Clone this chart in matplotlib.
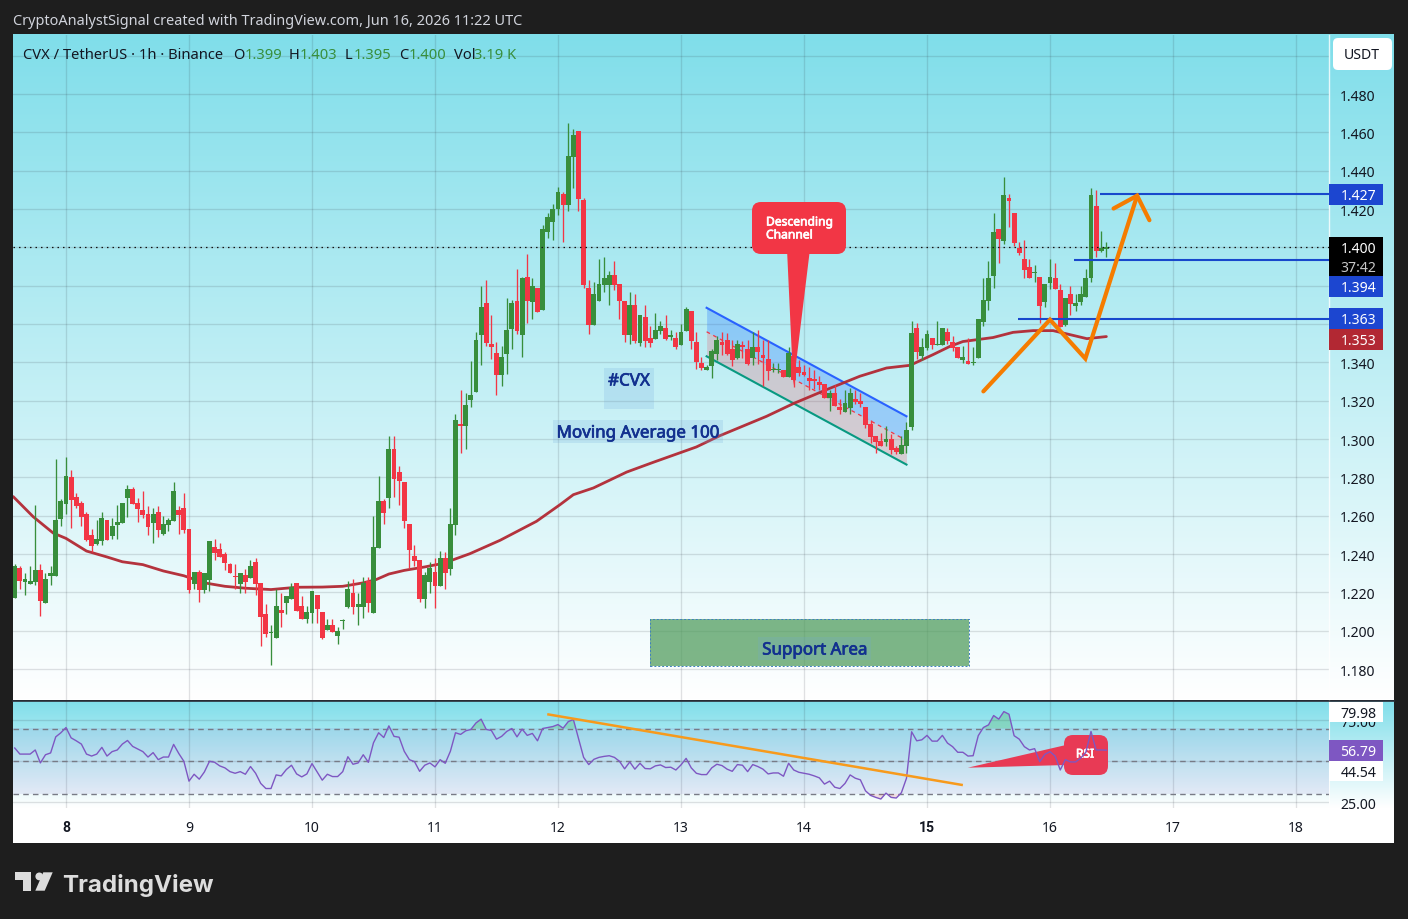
import numpy as np
import matplotlib
matplotlib.use("Agg")
import matplotlib.pyplot as plt
import matplotlib.patheffects as pe
from matplotlib.patches import Rectangle, FancyBboxPatch, Polygon, Circle
from matplotlib.transforms import Affine2D
from matplotlib.colors import LinearSegmentedColormap

plt.rcParams['font.family'] = ['Noto Sans', 'DejaVu Sans']

W, H = 1408, 920
hours = list(range(-10, 204))
opens = [1.217,1.233,1.2256,1.2246,1.2256,1.2319,1.2147,1.2287,1.2287,1.2585,
1.2663,1.28,1.27,1.2669,1.2611,1.2501,1.2455,1.247,1.258,1.2496,1.2554,1.2564,1.2695,1.2742,1.2669,1.2632,1.2611,1.2564,1.2622,1.2507,1.2554,1.2575,1.2632,1.2642,
1.2533,1.2246,1.2308,1.2215,1.2267,1.2439,1.2428,1.2402,1.235,1.2282,1.2246,1.2293,1.2277,1.2361,1.2251,1.2089,1.1988,1.1964,1.211,1.2147,1.2167,1.2251,1.2131,1.2063,
1.2094,1.2188,1.21,1.2006,1.2032,1.1974,1.205,1.2126,1.2199,1.2126,1.2126,1.2261,1.2095,1.2434,1.2679,1.2695,1.295,1.283,1.2778,1.2559,1.2392,1.2371,1.2167,1.2256,
1.2308,1.2235,1.2381,1.2324,1.2554,1.3081,1.3066,1.3205,1.3247,1.3545,1.3712,1.3498,1.3451,1.3336,1.3446,1.3576,1.3722,1.3545,1.3847,1.3717,1.379,1.3675,1.4082,1.4135,
1.4202,1.4281,1.4223,1.4474,1.461,1.4249,1.379,1.3597,1.3722,1.3806,1.3806,1.3858,1.3811,1.3722,1.3545,1.3701,1.3503,1.3639,1.3529,1.3524,1.3566,1.3581,1.3535,1.3529,
1.3492,1.3566,1.367,1.3508,1.3399,1.3362,1.3383,1.3446,1.3509,1.3519,1.3472,1.3425,1.3488,1.3472,1.3425,1.3483,1.3441,1.342,1.3361,1.3359,1.3363,1.3326,1.3436,1.3378,
1.3352,1.3321,1.331,1.33,1.329,1.3216,1.3243,1.3169,1.3143,1.3164,1.3211,1.3201,1.3169,1.3081,1.3018,1.2992,1.2987,1.3002,1.2955,1.2924,1.2966,1.3065,1.3582,1.3435,
1.3477,1.3529,1.3491,1.3493,1.3561,1.3508,1.3482,1.3414,1.3409,1.3395,1.3425,1.3613,1.3722,1.3853,1.4098,1.4036,1.426,1.4182,1.3999,1.3942,1.39,1.3865,1.3848,1.3717,
1.3816,1.3843,1.378,1.3597,1.3759,1.3696,1.3717,1.3743,1.3843,1.4218,1.3983,1.399]
highs = [1.235,1.234,1.2303,1.234,1.2658,1.235,1.2303,1.234,1.2898,1.2689,
1.2909,1.2841,1.2721,1.2679,1.2622,1.2533,1.258,1.2622,1.258,1.259,1.2658,1.2669,1.2762,1.2752,1.2695,1.2731,1.2653,1.2642,1.2653,1.26,1.259,1.2778,1.2653,1.2721,
1.2533,1.2308,1.2319,1.2303,1.247,1.2481,1.246,1.2413,1.2355,1.235,1.2303,1.232,1.2371,1.2381,1.2251,1.2141,1.2032,1.222,1.2199,1.2183,1.2251,1.2251,1.2183,1.2131,
1.2209,1.2188,1.21,1.2063,1.2063,1.2021,1.2063,1.2261,1.2272,1.2199,1.2282,1.2282,1.26,1.281,1.2689,1.3018,1.3018,1.2862,1.2778,1.2559,1.2449,1.2371,1.2308,1.2361,
1.2381,1.2418,1.2413,1.2642,1.3133,1.3258,1.3243,1.3409,1.356,1.38,1.3832,1.3649,1.3508,1.3487,1.3738,1.3727,1.3889,1.3847,1.3968,1.3842,1.379,1.4119,1.4182,1.4229,
1.4317,1.4291,1.4651,1.462,1.461,1.426,1.3832,1.3821,1.3941,1.3952,1.3879,1.3931,1.3811,1.3722,1.3769,1.3759,1.3649,1.3701,1.3592,1.366,1.3618,1.3649,1.3571,1.356,
1.3602,1.3691,1.367,1.356,1.343,1.3388,1.3472,1.354,1.3561,1.3551,1.3519,1.3519,1.3514,1.3519,1.3561,1.3571,1.3519,1.3519,1.3399,1.3399,1.3363,1.3483,1.3446,1.3415,
1.3389,1.3378,1.3363,1.3331,1.329,1.3258,1.3284,1.3211,1.3258,1.3269,1.3258,1.3243,1.3169,1.3102,1.3018,1.3034,1.307,1.3029,1.2966,1.3018,1.3091,1.3618,1.3608,1.3529,
1.3571,1.3529,1.3618,1.3582,1.3582,1.354,1.3482,1.3488,1.3529,1.3482,1.3629,1.3843,1.3931,1.4182,1.4098,1.437,1.4281,1.4182,1.403,1.404,1.3942,1.391,1.3848,1.3811,
1.3942,1.3921,1.3811,1.3738,1.3801,1.3759,1.3801,1.389,1.4312,1.4302,1.4088,1.403]
lows = [1.217,1.222,1.2188,1.2246,1.224,1.2079,1.2147,1.224,1.2287,1.2549,
1.2611,1.2538,1.2642,1.2549,1.247,1.2413,1.2449,1.2449,1.2475,1.2481,1.2481,1.2564,1.2595,1.2663,1.257,1.259,1.2501,1.246,1.2491,1.2501,1.2522,1.2575,1.2507,1.2512,
1.2199,1.222,1.2152,1.2199,1.2209,1.2371,1.2387,1.2319,1.2303,1.222,1.2199,1.2199,1.2277,1.2188,1.1922,1.1969,1.1823,1.1964,1.2021,1.209,1.2167,1.2105,1.2063,1.2042,
1.2042,1.2042,1.1959,1.2006,1.1995,1.1932,1.2011,1.212,1.209,1.2032,1.2068,1.21,1.2095,1.2434,1.2559,1.2642,1.27,1.2658,1.2538,1.2329,1.234,1.2152,1.212,1.2199,
1.212,1.2235,1.222,1.2293,1.2502,1.2929,1.295,1.317,1.3247,1.3388,1.3487,1.342,1.3232,1.3279,1.3341,1.3472,1.355,1.343,1.3607,1.3628,1.3665,1.3675,1.4051,1.4041,
1.4171,1.403,1.4192,1.4312,1.4192,1.379,1.355,1.3597,1.3722,1.3769,1.3701,1.378,1.3628,1.3508,1.3498,1.3503,1.3487,1.3482,1.3482,1.3524,1.355,1.3519,1.3519,1.3472,
1.3492,1.3566,1.3472,1.3367,1.3362,1.3362,1.332,1.3415,1.3441,1.3441,1.338,1.3418,1.3425,1.3389,1.3389,1.3394,1.3279,1.331,1.3352,1.3347,1.3326,1.3326,1.3272,1.3331,
1.3331,1.3258,1.3263,1.3258,1.3216,1.3149,1.3175,1.3133,1.3143,1.3133,1.3185,1.3169,1.306,1.2982,1.2929,1.2966,1.2966,1.2924,1.2924,1.2924,1.2929,1.3049,1.342,1.3414,
1.3467,1.3472,1.3491,1.3493,1.3498,1.3462,1.3425,1.3399,1.3394,1.3388,1.3425,1.3592,1.3675,1.379,1.3921,1.402,1.4109,1.401,1.3963,1.3843,1.3843,1.3822,1.3608,1.3691,
1.3785,1.3785,1.3587,1.3592,1.3649,1.367,1.3702,1.3743,1.3822,1.3952,1.3978,1.395]
closes = [1.234,1.226,1.2272,1.2261,1.2319,1.2157,1.2272,1.2303,1.258,1.2679,
1.281,1.2684,1.2653,1.2595,1.2475,1.2444,1.2481,1.259,1.2475,1.2549,1.257,1.2669,1.2742,1.2663,1.2637,1.2606,1.2543,1.2611,1.2528,1.2559,1.258,1.2731,1.2606,1.2528,
1.2215,1.2308,1.2215,1.2303,1.247,1.2408,1.2387,1.2355,1.2303,1.228,1.2303,1.2256,1.234,1.2246,1.2074,1.1985,1.199,1.2131,1.2094,1.2183,1.223,1.2105,1.2063,1.21,
1.2209,1.2115,1.1964,1.2032,1.1995,1.2,1.2051,1.2219,1.2126,1.2141,1.2251,1.2147,1.2439,1.2679,1.2616,1.295,1.2794,1.2783,1.2575,1.2424,1.2366,1.2167,1.2293,1.2329,
1.2235,1.2381,1.2303,1.2559,1.3102,1.3066,1.318,1.3232,1.3519,1.3691,1.3503,1.3482,1.3336,1.343,1.3571,1.3712,1.3566,1.3842,1.3722,1.38,1.3665,1.4098,1.4161,1.4202,
1.4291,1.4223,1.4479,1.4589,1.4255,1.3806,1.3597,1.3759,1.3811,1.3842,1.3858,1.3806,1.3722,1.3545,1.3701,1.3513,1.3649,1.3513,1.3503,1.3571,1.3592,1.3524,1.3537,1.3482,
1.356,1.3681,1.3513,1.3404,1.3372,1.3378,1.3461,1.3519,1.3493,1.3446,1.3415,1.3498,1.3483,1.3394,1.3483,1.3457,1.3425,1.3357,1.3366,1.3363,1.3326,1.3451,1.331,1.3347,
1.3336,1.3305,1.3305,1.3284,1.3216,1.3243,1.3175,1.3154,1.319,1.3243,1.3196,1.3185,1.3075,1.3013,1.2987,1.2966,1.3002,1.2945,1.2935,1.2971,1.3049,1.3551,1.3456,1.3482,
1.355,1.3493,1.3493,1.3582,1.3514,1.3477,1.3425,1.343,1.3394,1.3397,1.3629,1.3728,1.3843,1.4083,1.4046,1.4271,1.4244,1.4025,1.3973,1.3884,1.3843,1.3869,1.3696,1.3811,
1.3848,1.3785,1.3587,1.3738,1.3707,1.3712,1.3759,1.3843,1.4271,1.3983,1.3999,1.400]

ma_hours = [-10.3,-6.4,-2.5,0,4,8,11,15,19,23,27,31,35,40,45,50,54,58,60.5,63,66,70,74,75.6,78.8,84.7,91.8,96.4,99,102.9,109.4,114.6,123,127.6,136.7,141.9,148.4,154.9,160.1,164.7,169.2,172.5,175,180.9,184.8,188.7,192.6,195.9,199.2,203]
ma_values = [1.27,1.2595,1.251,1.2482,1.2416,1.2385,1.236,1.2345,1.2312,1.2287,1.225,1.2232,1.2222,1.2215,1.2227,1.2228,1.2232,1.225,1.2267,1.2296,1.2315,1.2333,1.2354,1.2371,1.2402,1.2472,1.2571,1.2658,1.271,1.2745,1.2828,1.2879,1.2959,1.3018,1.3119,1.3185,1.3258,1.3328,1.3371,1.3385,1.3441,1.3484,1.3509,1.353,1.3557,1.3566,1.3566,1.3545,1.3524,1.3535]

rsi = [58.1,54.4,54.4,54.4,56.9,49,54,55.1,64.9,67.4,70.6,64.3,62.5,60.5,54.4,53.2,54.4,58.5,53.2,55.9,56.9,60.5,62.7,59.1,57.5,55.9,52.6,55.3,51,52.6,52.6,60.3,54.8,50,
37.9,42.1,39.1,43.5,50,49.4,47.2,46,43.7,42.7,43.7,42.1,46.8,42.7,36.5,33.4,33.4,41.7,41.1,45,47.6,42.3,40.5,42.3,48.6,43.5,38.5,42.1,40.7,40.7,43.7,52.8,48.2,49,54,49.4,61.3,67.4,64.5,71.6,65.2,64.7,56.1,51,49.8,43.9,47.6,49,46.6,51,48.8,56.1,67.4,66.4,68.6,69.4,73.4,75.7,69.4,68.8,63.5,65.2,68.2,70,64.9,69.6,65.8,67,62.5,70,70.6,71.2,72.4,70.2,74.2,75.5,63.9,52.4,48,51.2,52.4,53,
53.4,52.4,50,45.4,49.6,45.2,48.8,45.6,45.4,47.2,47.8,46.2,46.4,44.7,47.8,51.8,46,42.7,41.9,41.9,46,48.2,47.4,45.2,43.9,48,47.6,43.7,48,46.8,45.2,42.3,42.9,42.9,40.9,48.8,44.7,43.3,42.7,42.1,41.1,39.9,36.1,37.9,34.2,33.4,36.5,41.7,39.7,38.7,32,29.2,28,27,30.6,28,27.6,30.8,39.7,68,62.5,63.1,65.8,62.3,62.3,65.8,61.1,58.9,55.5,55.5,53.2,53.4,65.6,70.6,72.2,77.9,75.7,80.3,78.7,65.6,63.5,58.9,56.9,57.7,49.8,54.2,55.9,53.2,44.7,51,49.6,49.6,52,55.5,68.2,56.9,56.9,56.79]

price_ticks = [1.18,1.20,1.22,1.24,1.26,1.28,1.30,1.32,1.34,1.36,1.38,1.40,1.42,1.44,1.46,1.48,1.50]
price_tick_labels = ["1.180","1.200","1.220","1.240","1.260","1.280","1.300","1.320","1.340","","","","1.420","1.440","1.460","1.480",""]
day_ticks = [0,24,48,72,96,120,144,168,192,216,240]
day_labels = ["8","9","10","11","12","13","14","15","16","17","18"]
rsi_ticks = [25, 50, 75]
rsi_tick_labels = ["25.00", "", "75.00"]
rsi_bands = [30, 50, 70]

channel_hours = [125, 164]
channel_top = [1.3685, 1.3119]
channel_mid = [1.356, 1.2993]
channel_bottom = [1.3432, 1.2867]
support_hours = [114, 176.2]
support_prices = [1.1818, 1.2064]
levels = [1.4277, 1.3937, 1.3629]
level_starts = [201.8, 196.7, 185.8]
path_hours = [179, 192, 198.9, 209]
path_prices = [1.3249, 1.3623, 1.342, 1.427]
head_hours = [204.4, 209, 211.4]
head_prices = [1.4203, 1.427, 1.4142]
rsi_trend_hours = [93.9, 175]
rsi_trend_values = [78.7, 35.5]

GREEN, RED = '#388E3C', '#F23645'
CYAN = '#80DEEA'
TXT = '#131722'
NAVY = '#12308F'

fig = plt.figure(figsize=(W / 100, H / 100), dpi=100, facecolor='#1E1E1E')
PX = Affine2D().scale(1, -1).translate(0, H)

def axes_px(x0, y0, x1, y1, **kw):
    return fig.add_axes([x0 / W, 1 - y1 / H, (x1 - x0) / W, (y1 - y0) / H], **kw)

def thick(width, color):
    return [pe.withStroke(linewidth=width, foreground=color)]

grad = LinearSegmentedColormap.from_list('g', [CYAN, '#FFFFFF'])
for (y0, y1) in [(35, 701), (702, 809)]:
    bg = axes_px(13, y0, 1394, y1, zorder=0)
    bg.imshow(np.linspace(0, 1, 256).reshape(-1, 1), aspect='auto', cmap=grad, extent=(0, 1, 0, 1))
    bg.axis('off')
white = axes_px(13, 809, 1394, 844, zorder=0)
white.set_facecolor('white')
white.set_xticks([]); white.set_yticks([])
for s in white.spines.values():
    s.set_visible(False)

# -------- price pane --------
ax = axes_px(13, 35.6, 1329, 701.6, zorder=2)
ax.patch.set_alpha(0)
ax.set_xlim(-10.34, 246.44)
ax.set_ylim(1.48 - 606.5 / 1916.67, 1.48 + 59.5 / 1916.67)
ax.set_axisbelow(True)
ax.yaxis.tick_right()
ax.set_yticks(price_ticks)
ax.set_yticklabels(price_tick_labels, fontsize=10.1, color=TXT)
ax.tick_params(axis='y', length=0, pad=8)
ax.set_xticks(day_ticks)
ax.tick_params(axis='x', length=0, labelbottom=False)
ax.grid(True, color='#2A2E39', alpha=0.14, lw=0.95)
for name, s in ax.spines.items():
    s.set_visible(name == 'right')
ax.spines['right'].set_color('#FFFFFF')
ax.spines['right'].set_alpha(0.8)
ax.spines['right'].set_linewidth(1.0)

ax.add_patch(Rectangle((support_hours[0], support_prices[0]), support_hours[1] - support_hours[0],
                       support_prices[1] - support_prices[0], fc='#4E9A5A', alpha=0.72, ec='none', zorder=1.2))
ax.add_patch(Rectangle((support_hours[0], support_prices[0]), support_hours[1] - support_hours[0],
                       support_prices[1] - support_prices[0], fc='none', ec='#3F7FC0', lw=0.7, ls=(0, (2, 2)), zorder=1.3))

ax.fill_between(channel_hours, channel_mid, channel_top, color='#2979FF', alpha=0.30, lw=0, zorder=1.5)
ax.fill_between(channel_hours, channel_bottom, channel_mid, color='#F23645', alpha=0.20, lw=0, zorder=1.5)
ax.plot(channel_hours, channel_top, color='#2962FF', lw=1.5, zorder=1.7)
ax.plot(channel_hours, channel_mid, color='#F23645', lw=0.9, ls=(0, (3, 3)), zorder=1.7)
ax.plot(channel_hours, channel_bottom, color='#089981', lw=1.5, zorder=1.7)

ax.plot(ma_hours, ma_values, color='#B22833', lw=2.0, zorder=2.5, solid_capstyle='round', alpha=0.95)

o, h_, l, c = map(np.array, (opens, highs, lows, closes))
t = np.array(hours)
cols = [GREEN if cc >= oo else RED for oo, cc in zip(o, c)]
ax.vlines(t, l, h_, colors=cols, lw=0.95, zorder=3)
body_low = np.minimum(o, c)
body_h = np.maximum(np.abs(c - o), 0.0006)
ax.bar(t, body_h, bottom=body_low, width=0.95, color=cols, lw=0, zorder=3.1)

ax.axhline(closes[-1], color='#111111', lw=0.9, ls=(0, (1.2, 3.2)), zorder=3.5)

for lv, st in zip(levels, level_starts):
    ax.hlines(lv, st, 246.44, color='#1848CC', lw=1.5, zorder=4)
ax.plot(path_hours, path_prices, color='#F57C00', lw=3.0, zorder=4.2, solid_capstyle='round', solid_joinstyle='miter')
ax.plot(head_hours, head_prices, color='#F57C00', lw=3.0, zorder=4.2, solid_capstyle='round', solid_joinstyle='miter')

def text_box(x0, y0, x1, y1, color, alpha):
    ax.add_patch(Rectangle((x0, y0), x1 - x0, y1 - y0, transform=PX, fc=color, alpha=alpha, ec='none', zorder=4.3))

text_box(604, 369, 654, 410, '#6FA8DC', 0.20)
text_box(553, 421, 723, 444, '#6FA8DC', 0.20)
text_box(758, 638, 871, 661, '#6FA8DC', 0.20)
for (x, y, s) in [(629, 382.5, '#CVX'), (638, 434.5, 'Moving Average 100'), (815, 651.5, 'Support Area')]:
    ax.text(x, y, s, transform=PX, ha='center', va='center', color=NAVY, fontsize=12.2, zorder=4.4,
            path_effects=thick(0.5, NAVY))

ax.add_patch(FancyBboxPatch((757, 208), 84, 42, boxstyle='round,pad=5,rounding_size=9', transform=PX,
                            fc=RED, ec='none', zorder=5))
ax.add_patch(Polygon([(787, 250), (810, 250), (793.3, 386.7)], closed=True, transform=PX, fc=RED, ec='none', zorder=5))
ax.text(766, 223, 'Descending', transform=PX, color='white', fontsize=8.7, va='center', ha='left', zorder=5.1,
        path_effects=thick(0.5, 'white'))
ax.text(766, 236, 'Channel', transform=PX, color='white', fontsize=8.7, va='center', ha='left', zorder=5.1,
        path_effects=thick(0.5, 'white'))

def scale_box(a, y0, y1, color):
    a.add_patch(Rectangle((1329, y0), 54, y1 - y0, transform=PX, fc=color, ec='none', zorder=6, clip_on=False))

def scale_text(a, y, s, color):
    a.text(1376.5, y + 1.2, s, transform=PX, ha='right', va='center', color=color, fontsize=10.1, zorder=6.1, clip_on=False)

scale_box(ax, 185, 206, '#1C46D0'); scale_text(ax, 195.5, '1.427', 'white')
scale_box(ax, 238, 277, '#000000'); scale_text(ax, 248, '1.400', 'white'); scale_text(ax, 267, '37:42', '#C8C8C8')
scale_box(ax, 277, 298, '#1C46D0'); scale_text(ax, 287.5, '1.394', 'white')
scale_box(ax, 309, 330, '#1C46D0'); scale_text(ax, 319.5, '1.363', 'white')
scale_box(ax, 330, 351, '#B22833'); scale_text(ax, 340.5, '1.353', 'white')
ax.add_patch(FancyBboxPatch((1336, 42), 53, 26, boxstyle='round,pad=3,rounding_size=5', transform=PX,
                            fc='white', ec='none', zorder=6, clip_on=False))
ax.text(1362, 56, 'USDT', transform=PX, ha='center', va='center', color=TXT, fontsize=10.1, zorder=6.1, clip_on=False)

for x, s, col in [(23, 'CVX / TetherUS · 1h · Binance', TXT), (233.5, 'O', TXT), (244.5, '1.399', GREEN),
                  (289, 'H', TXT), (299.6, '1.403', GREEN), (345, 'L', TXT), (353.6, '1.395', GREEN),
                  (398.8, 'C', TXT), (408.8, '1.400', GREEN), (453.5, 'Vol', TXT), (474.5, '3.19 K', GREEN)]:
    ax.text(x, 55.5, s, transform=PX, ha='left', va='center', color=col, fontsize=10.6, zorder=6)

# -------- RSI pane --------
rx = axes_px(13, 702, 1329, 809, zorder=2)
rx.patch.set_alpha(0)
rx.set_xlim(-10.34, 246.44)
rx.set_ylim(50 + (762.3 - 809) / 1.64, 50 + (762.3 - 702) / 1.64)
rx.set_axisbelow(True)
rx.yaxis.tick_right()
rx.set_yticks(rsi_ticks)
rx.set_yticklabels(rsi_tick_labels, fontsize=10.1, color=TXT)
rx.tick_params(axis='y', length=0, pad=8)
rx.set_xticks(day_ticks)
rx.set_xticklabels(day_labels, fontsize=10.1, color=TXT)
rx.tick_params(axis='x', length=0, pad=9)
for lab, name in zip(rx.get_xticklabels(), day_labels):
    if name in ('8', '15'):
        lab.set_family('Roboto')
        lab.set_fontweight('bold')
rx.grid(True, color='#2A2E39', alpha=0.14, lw=0.95)
for name, s in rx.spines.items():
    s.set_visible(name == 'right')
rx.spines['right'].set_color('#FFFFFF')
rx.spines['right'].set_alpha(0.8)
rx.axhspan(rsi_bands[0], rsi_bands[2], color='#7E57C2', alpha=0.10, lw=0, zorder=1)
for b in rsi_bands:
    rx.axhline(b, color='#787B86', lw=1.0, ls=(0, (4, 3)), zorder=1.5)
rsi_arr = np.array(rsi)
rx.fill_between(t, 70, rsi_arr, where=rsi_arr > 70, interpolate=True, color='#4CAF50', alpha=0.28, lw=0, zorder=1.6)
rx.fill_between(t, 30, rsi_arr, where=rsi_arr < 30, interpolate=True, color='#F23645', alpha=0.15, lw=0, zorder=1.6)

rx.add_patch(FancyBboxPatch((1070, 742), 32, 28, boxstyle='round,pad=6,rounding_size=9', transform=PX,
                            fc='#E83A55', ec='none', zorder=2))
rx.add_patch(Polygon([(967.8, 768.7), (1066, 746), (1066, 766)], closed=True, transform=PX, fc='#E83A55', ec='none', zorder=2))
rx.text(1085, 755, 'RSI', transform=PX, ha='center', va='center', color='white', fontsize=8.7, zorder=2.1,
        path_effects=thick(0.5, 'white'))
rx.plot(t, rsi_arr, color='#7E57C2', lw=1.0, zorder=3)
rx.plot(rsi_trend_hours, rsi_trend_values, color='#F79A1C', lw=1.8, zorder=3.2, solid_capstyle='butt')

scale_box(rx, 703, 723, 'white'); scale_text(rx, 713.5, '79.98', TXT)
scale_box(rx, 741, 762, '#7E57C2'); scale_text(rx, 751.5, '56.79', 'white')
scale_box(rx, 762, 782, 'white'); scale_text(rx, 772.5, '44.54', TXT)

fig.add_artist(plt.Line2D([13 / W, 1394 / W], [1 - 701.5 / H, 1 - 701.5 / H], color='#2A2E39', lw=1.2, zorder=7))

# -------- frame texts --------
fig.text(13 / W, 1 - 21.5 / H, 'CryptoAnalystSignal created with TradingView.com, Jun 16, 2026 11:22 UTC',
         color='#D1D4DC', fontsize=10.45, ha='left', va='center')
fig.text(62 / W, 1 - 892 / H, 'TradingView', color='#DDDDDD', fontsize=17.4, fontweight='bold', family='Inter',
         ha='left', va='baseline')
LOGO = '#DDDDDD'
fig.add_artist(Polygon([(15.3, 873.3), (30.7, 873.3), (30.7, 891.7), (22.7, 891.7), (22.7, 881), (15.3, 881)],
                       closed=True, transform=PX, fc=LOGO, ec='none'))
fig.add_artist(Circle((39.3, 877.4), 3.9, transform=PX, fc=LOGO, ec='none'))
fig.add_artist(Polygon([(43.3, 873.3), (52.7, 873.3), (44.7, 891.7), (35.3, 891.7)],
                       closed=True, transform=PX, fc=LOGO, ec='none'))

fig.savefig('out.png', dpi=100, facecolor=fig.get_facecolor())
